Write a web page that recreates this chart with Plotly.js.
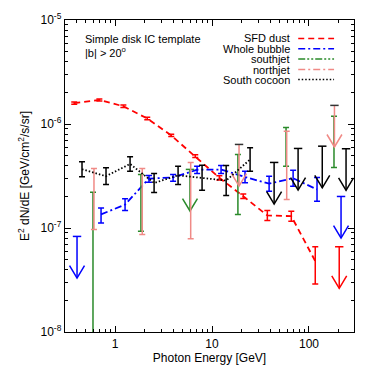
<!DOCTYPE html>
<html>
<head>
<meta charset="utf-8">
<script src="https://cdn.plot.ly/plotly-3.0.1.min.js"></script>
<style>html,body{margin:0;padding:0;background:#fff}</style>
</head>
<body>
<div id="plot" style="width:374px;height:374px"></div>
<script>
// SFD dust
var sfdE  = [0.38, 0.69, 1.22, 2.15, 3.80, 6.72, 11.9, 21.0, 37.2, 65.7, 116, 205];
var sfdV  = [1.59e-6, 1.70e-6, 1.48e-6, 1.13e-6, 7.76e-7, 4.90e-7, 3.04e-7, 2.02e-7, 1.32e-7, 1.30e-7, 4.8e-8, 6.6e-8];
var sfdHi = [1.63e-6, 1.74e-6, 1.52e-6, 1.16e-6, 7.95e-7, 5.05e-7, 3.18e-7, 2.12e-7, 1.47e-7, 1.45e-7, 6.6e-8, null];
var sfdLo = [1.55e-6, 1.66e-6, 1.44e-6, 1.10e-6, 7.57e-7, 4.75e-7, 2.90e-7, 1.92e-7, 1.18e-7, 1.16e-7, 2.9e-8, null];
var sfdUL = [0, 0, 0, 0, 0, 0, 0, 0, 0, 0, 0, 1];

// Whole bubble
var bubE  = [0.406, 0.718, 1.27, 2.24, 3.97, 7.02, 12.4, 21.9, 38.8, 68.6, 121, 214];
var bubV  = [8.3e-8, 1.35e-7, 1.68e-7, 2.99e-7, 3.06e-7, 3.63e-7, 3.65e-7, 3.09e-7, 2.67e-7, 3.01e-7, 2.35e-7, 2.01e-7];
var bubHi = [null, 1.56e-7, 1.91e-7, 3.20e-7, 3.27e-7, 3.93e-7, 3.98e-7, 3.52e-7, 3.15e-7, 3.59e-7, 3.06e-7, null];
var bubLo = [null, 1.12e-7, 1.47e-7, 2.76e-7, 2.82e-7, 3.34e-7, 3.34e-7, 2.72e-7, 2.26e-7, 2.52e-7, 1.81e-7, null];
var bubUL = [1, 0, 0, 0, 0, 0, 0, 0, 0, 0, 0, 1];

// southjet
var sjE  = [0.593, 1.85, 5.93, 18.5, 58.0, 181];
var sjV  = [4.0e-8, 1.74e-7, 3.66e-7, 2.62e-7, 6.04e-7, 6.75e-7];
var sjHi = [2.21e-7, 3.27e-7, null, 5.09e-7, 9.27e-7, 1.19e-6];
var sjLo = [0, 9.3e-8, null, 1.35e-7, 3.93e-7, 3.82e-7];
var sjUL = [0, 0, 1, 0, 0, 0];

// northjet
var njE  = [0.607, 1.91, 6.03, 19.0, 58.9, 183];
var njV  = [1.90e-7, 1.80e-7, 1.84e-7, 6.36e-7, 4.00e-7, 1.51e-6];
var njHi = [3.73e-7, 3.73e-7, 4.27e-7, null, 8.54e-7, null];
var njLo = [9.65e-8, 8.64e-8, 7.9e-8, null, 1.88e-7, null];
var njUL = [0, 0, 0, 1, 0, 1];

// South cocoon
var scE  = [0.457, 0.808, 1.43, 2.53, 4.47, 7.90, 14.0, 24.7, 43.7, 77.2, 137, 241];
var scV  = [3.67e-7, 3.15e-7, 4.13e-7, 2.71e-7, 3.21e-7, 3.05e-7, 2.86e-7, 4.56e-7, 4.27e-7, 5.82e-7, 6.12e-7, 5.78e-7];
var scHi = [4.34e-7, 3.79e-7, 4.84e-7, 3.34e-7, 3.93e-7, 4.02e-7, 3.99e-7, 5.91e-7, null, null, null, null];
var scLo = [3.11e-7, 2.62e-7, 3.52e-7, 2.19e-7, 2.62e-7, 2.31e-7, 2.05e-7, 3.52e-7, null, null, null, null];
var scUL = [0, 0, 0, 0, 0, 0, 0, 0, 1, 1, 1, 1];

var series = [
  {name: 'SFD dust', E: sfdE, v: sfdV, hi: sfdHi, lo: sfdLo, ul: sfdUL, color: '#ff0000', dash: '6px,4px', line: true, capColor: '#ff0000'},
  {name: 'Whole bubble', E: bubE, v: bubV, hi: bubHi, lo: bubLo, ul: bubUL, color: '#0000ff', dash: '7px,3px,2px,3px', line: true, capColor: '#0000ff'},
  {name: 'southjet', E: sjE, v: sjV, hi: sjHi, lo: sjLo, ul: sjUL, color: '#2a8a2a', dash: '7px,2px,2px,2px,2px,2px', line: false, capColor: '#2a8a2a'},
  {name: 'northjet', E: njE, v: njV, hi: njHi, lo: njLo, ul: njUL, color: '#f08a86', dash: '7px,3px,2px,3px', line: false, capColor: '#333333'},
  {name: 'South cocoon', E: scE, v: scV, hi: scHi, lo: scLo, ul: scUL, color: '#000000', dash: '1.5px,2px', line: true, capColor: '#000000'}
];

// upper-limit arrow style (in decades): shaft length, head half-width, head height
var ARROW_LEN = 0.4, HEAD_DX = 0.077, HEAD_DY = 0.12;
var traces = [];
var annotations = [];
var shapes = [];

series.forEach(function(s) {
  var y = s.v.map(function(v, i) { return s.ul[i] ? null : v; });
  var plus = s.v.map(function(v, i) { return s.ul[i] ? 0 : s.hi[i] - v; });
  var minus = s.v.map(function(v, i) { return s.ul[i] ? 0 : v - s.lo[i]; });
  traces.push({
    x: s.E, y: y, type: 'scatter',
    mode: s.line ? 'lines' : 'markers',
    line: {color: s.color, width: 1.8, dash: s.dash},
    marker: {size: 1, color: s.color, opacity: s.line ? 1 : 0},
    connectgaps: false,
    error_y: {type: 'data', symmetric: false, array: plus, arrayminus: minus,
              color: s.color, thickness: 1.5, width: 3},
    hoverinfo: 'skip', showlegend: false
  });
  // upper limits: shaft + open V head
  var ax = [], ay = [], ux = [], uy = [];
  s.v.forEach(function(v, i) {
    if (!s.ul[i]) return;
    var e = s.E[i];
    var tip = v / Math.pow(10, ARROW_LEN);
    var up = tip * Math.pow(10, HEAD_DY);
    var dx = Math.pow(10, HEAD_DX);
    ax.push(e, e, null, e / dx, e, e * dx, null);
    ay.push(v, tip, null, up, tip, up, null);
    ux.push(e); uy.push(v);
  });
  traces.push({
    x: ax, y: ay, type: 'scatter', mode: 'lines',
    line: {color: s.color, width: 1.5}, connectgaps: false,
    hoverinfo: 'skip', showlegend: false
  });
  traces.push({
    x: ux, y: uy, type: 'scatter', mode: 'markers',
    marker: {symbol: 'line-ew-open', size: 6, color: s.capColor, line: {color: s.capColor, width: 1.5}},
    hoverinfo: 'skip', showlegend: false
  });
});

// legend drawn by hand: text on the left, line sample on the right
var legY = [0.941, 0.908, 0.875, 0.841, 0.809];
series.forEach(function(s, i) {
  annotations.push({
    x: 0.786, y: legY[i], xref: 'paper', yref: 'paper', xanchor: 'right', yanchor: 'middle',
    text: s.name, showarrow: false, font: {size: 11, color: '#000'}
  });
  shapes.push({
    type: 'line', xref: 'paper', yref: 'paper', x0: 0.807, x1: 0.931, y0: legY[i], y1: legY[i],
    line: {color: s.color, width: 1.5, dash: s.dash}
  });
});

annotations.push({
  x: 0.062, y: 0.938, xref: 'paper', yref: 'paper', xanchor: 'left', yanchor: 'middle',
  text: 'Simple disk IC template', showarrow: false, font: {size: 11, color: '#000'}
});
annotations.push({
  x: 0.062, y: 0.897, xref: 'paper', yref: 'paper', xanchor: 'left', yanchor: 'middle',
  text: '|b| > 20<sup>o</sup>', showarrow: false, font: {size: 11, color: '#000'}
});

var xMinor = [], yMinor = [];
[0.1, 1, 10, 100].forEach(function(d) {
  for (var k = 2; k <= 9; k++) xMinor.push(k * d);
});
[1e-8, 1e-7, 1e-6].forEach(function(d) {
  for (var k = 2; k <= 9; k++) yMinor.push(k * d);
});

var yTicks = [1e-8, 1e-7, 1e-6, 1e-5];
var yTickText = ['10<sup>-8</sup>', '10<sup>-7</sup>', '10<sup>-6</sup>', '10<sup>-5</sup>'];

var layout = {
  width: 374, height: 374,
  margin: {l: 65, r: 20, t: 20, b: 42},
  paper_bgcolor: '#fff', plot_bgcolor: '#fff',
  font: {family: 'Liberation Sans, Arial, sans-serif', size: 12, color: '#000'},
  showlegend: false,
  xaxis: {
    type: 'log', range: [-0.5155, 2.464],
    tickmode: 'array', tickvals: [1, 10, 100], ticktext: ['1', '10', '100'],
    ticks: 'inside', ticklen: 6, tickwidth: 1, tickcolor: '#000',
    minor: {tickmode: 'array', tickvals: xMinor, ticks: 'inside', ticklen: 3, tickwidth: 1, tickcolor: '#000'},
    showline: true, linecolor: '#000', linewidth: 1.3, mirror: 'allticks',
    showgrid: false, zeroline: false,
    tickfont: {size: 12},
    title: {text: 'Photon Energy [GeV]', font: {size: 12}, standoff: 4}
  },
  yaxis: {
    type: 'log', range: [-8, -5],
    tickmode: 'array', tickvals: yTicks, ticktext: yTickText,
    ticks: 'inside', ticklen: 6, tickwidth: 1, tickcolor: '#000',
    minor: {tickmode: 'array', tickvals: yMinor, ticks: 'inside', ticklen: 3, tickwidth: 1, tickcolor: '#000'},
    showline: true, linecolor: '#000', linewidth: 1.3, mirror: 'allticks',
    showgrid: false, zeroline: false,
    tickfont: {size: 12},
    title: {text: 'E<sup>2</sup> dN/dE [GeV/cm<sup>2</sup>/s/sr]', font: {size: 12}, standoff: 8}
  },
  annotations: annotations,
  shapes: shapes
};

Plotly.newPlot('plot', traces, layout, {staticPlot: true});
</script>
</body>
</html>
